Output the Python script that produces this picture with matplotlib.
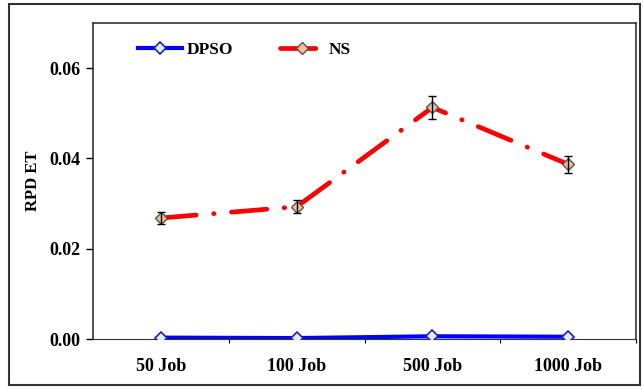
import numpy as np
import matplotlib.pyplot as plt
from matplotlib.patches import Rectangle

plt.rcParams['font.family'] = ['Liberation Serif', 'DejaVu Serif']
plt.rcParams['font.weight'] = 'bold'

# dados
categorias = ['50 Job', '100 Job', '500 Job', '1000 Job']
dpso = [0.0003, 0.0002, 0.0006, 0.0005]
ns = [0.0268, 0.0293, 0.0513, 0.0387]
ns_erro = [0.0013, 0.0014, 0.0025, 0.0019]

x = np.arange(len(categorias))

fig = plt.figure(figsize=(6.43, 3.89), dpi=100)
ax = fig.add_axes([93/643, 1 - 339/389, 543/643, 316/389])

ax.plot(x, dpso, color='#0000ff', lw=3, marker='D', ms=6,
        mfc='#e3ecfa', mec='#1f1fbf', mew=1.2, label='DPSO', zorder=3)
ax.plot(x, ns, color='#ff0000', lw=3.4,
        dashes=[7.5, 3.7, 0.1, 3.7], dash_capstyle='round',
        marker='D', ms=6, mfc='#f4bf8e', mec='#555555', mew=1.0,
        label='NS', zorder=3)
ax.errorbar(x, ns, yerr=ns_erro, fmt='none', ecolor='black',
            elinewidth=1, capsize=3, capthick=1, zorder=4)

ax.set_xlim(-0.5, 3.5)
ax.set_ylim(0, 0.07)
ax.set_yticks([0.0, 0.02, 0.04, 0.06])
ax.set_yticklabels(['0.00', '0.02', '0.04', '0.06'])
ax.tick_params(axis='y', labelsize=13, length=5, width=1, pad=4)

ax.set_xticks([0.5, 1.5, 2.5, 3.5])
ax.set_xticklabels([])
ax.tick_params(axis='x', which='major', length=3, width=0.8, direction='out')
ax.set_xticks(x, minor=True)
ax.set_xticklabels(categorias, minor=True)
ax.tick_params(axis='x', which='minor', length=0, labelsize=13, pad=14)

for s in ax.spines.values():
    s.set_color('#333333')
    s.set_linewidth(1.2)
ax.spines['bottom'].set_linewidth(0.8)

ax.set_ylabel('RPD ET', fontsize=12, fontweight='bold', labelpad=6)

leg = ax.legend(loc='upper left', ncol=2, frameon=False, fontsize=12.5,
                bbox_to_anchor=(0.055, 0.99), columnspacing=2.7,
                handlelength=2.5, handletextpad=0.3)

# moldura externa
fig.patches.append(Rectangle((9/643, 4/389), 631/643, 381/389,
                             transform=fig.transFigure, fill=False,
                             edgecolor='#333333', lw=1.5))

fig.savefig('out.png', dpi=100)
